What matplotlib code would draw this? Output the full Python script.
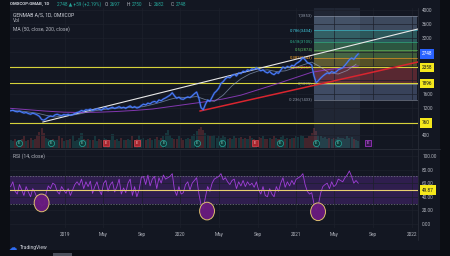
import numpy as np
import pandas as pd
import matplotlib
matplotlib.use("Agg")
import matplotlib.pyplot as plt
import matplotlib.transforms as mtransforms
from matplotlib.patches import Ellipse, Rectangle

plt.rcParams['font.family'] = ['Roboto', 'DejaVu Sans']

BG = '#131722'
TXT = '#b2b5be'
GRID = '#1c202b'

# weekly closes GMAB (DKK), from 2018-07-13
first_week = '2018-07-13'
close = [
    1110, 1125, 1095, 1080, 1100, 1070, 1045, 1060, 1030, 1010, 1040, 1020, 990,
    950, 860, 840, 880, 930, 960, 945, 990, 1010, 985, 970, 1000, 990,
    1010, 980, 1000, 1030, 1060, 1080, 1120, 1100, 1140, 1130, 1160, 1120, 1140,
    1170, 1150, 1130, 1180, 1200, 1160, 1190, 1210, 1180, 1200, 1230, 1190, 1210,
    1180, 1220, 1250, 1200, 1230, 1190, 1210, 1260, 1300, 1280, 1330, 1310, 1360,
    1380, 1350, 1420, 1400, 1450, 1480, 1520, 1560, 1630, 1540, 1470, 1500, 1450,
    1440, 1480, 1510, 1490, 1540, 1600, 1650, 1480, 1200, 1140, 1300, 1420, 1380,
    1500, 1620, 1680, 1760, 1900, 1950, 2030, 2080, 2060, 2120, 2160, 2110, 2200,
    2180, 2250, 2230, 2290, 2270, 2320, 2300, 2350, 2310, 2260, 2290, 2230, 2200,
    2240, 2180, 2150, 2210, 2190, 2280, 2370, 2330, 2390, 2360, 2420, 2400, 2470,
    2510, 2560, 2640, 2580, 2500, 2470, 2430, 2120, 1920, 1980, 2050, 2110, 2160,
    2200, 2180, 2240, 2210, 2230, 2290, 2320, 2350, 2420, 2500, 2580, 2630, 2590,
    2680, 2748,
]
volume = [
    40, 35, 45, 30, 38, 42, 55, 35, 40, 48, 36, 44, 60,
    75, 95, 70, 50, 42, 38, 45, 40, 36, 55, 48, 35, 40,
    38, 45, 60, 35, 40, 48, 70, 42, 38, 45, 36, 40, 55,
    35, 42, 38, 50, 45, 36, 40, 65, 38, 42, 35, 48, 40,
    36, 45, 40, 55, 38, 42, 60, 45, 50, 38, 42, 48, 40,
    45, 52, 40, 48, 55, 70, 85, 60, 50, 45, 42, 55, 48,
    40, 45, 50, 42, 55, 65, 80, 90, 100, 85, 70, 60, 55,
    58, 62, 50, 55, 48, 60, 52, 45, 50, 42, 55, 48, 46,
    52, 45, 48, 42, 55, 50, 45, 40, 52, 48, 55, 45, 42,
    50, 45, 55, 48, 42, 52, 60, 45, 48, 42, 50, 46, 55,
    52, 60, 55, 48, 50, 58, 72, 95, 80, 60, 55, 48, 52,
    45, 50, 42, 48, 45, 52, 48, 50, 45, 55, 48, 52, 45,
    40, 35,
]
rsi = [
    55, 62, 48, 44, 58, 50, 42, 55, 47, 40, 52, 46, 38,
    33, 26, 29, 45, 56, 52, 60, 58, 48, 44, 55, 50, 45,
    52, 42, 50, 58, 62, 57, 66, 52, 62, 55, 63, 45, 55,
    62, 50, 43, 60, 64, 48, 58, 62, 47, 55, 66, 44, 53,
    46, 60, 66, 42, 55, 40, 50, 68, 70, 58, 72, 56, 66,
    70, 52, 68, 60, 72, 66, 68, 70, 74, 50, 42, 55, 44,
    46, 58, 62, 50, 60, 64, 68, 45, 28, 22, 40, 55, 48,
    60, 66, 68, 70, 74, 65, 68, 62, 58, 64, 66, 52, 62,
    56, 64, 55, 62, 57, 60, 54, 62, 50, 44, 55, 42, 40,
    52, 44, 40, 55, 48, 60, 68, 54, 62, 56, 64, 58, 66,
    68, 70, 74, 58, 48, 44, 46, 30, 20, 28, 45, 55, 58,
    60, 52, 62, 55, 58, 66, 64, 62, 68, 72, 78, 70, 60,
    64, 60,
]
ma50_weeks = list(range(0, 157, 4))
ma50 = [1120, 1105, 1075, 1040, 980, 930, 960, 985, 1030, 1090,
        1130, 1160, 1185, 1200, 1210, 1230, 1290, 1360, 1440, 1500,
        1490, 1520, 1430, 1380, 1560, 1830, 2030, 2170, 2260, 2290,
        2240, 2260, 2340, 2430, 2510, 2370, 2200, 2170, 2270, 2450]
ma200_weeks = list(range(0, 153, 8)) + [157]
ma200 = [1180, 1140, 1100, 1070, 1060, 1070, 1090, 1120, 1160, 1230,
         1300, 1370, 1450, 1560, 1720, 1880, 2050, 2220, 2300, 2360, 2400]

last_price = 2748
hlines = [2358, 1896, 760]
price_ticks = [400, 800, 1200, 1600, 2000, 2400, 2800, 3200, 3600, 4000]
price_tick_labels = ['400', '', '1200', '1600', '', '', '', '3200', '3600', '4000']

white_dates = ['2018-10-23', '2022-01-21']
white_prices = [787, 3466]
red_dates = ['2020-03-03', '2022-01-21']
red_prices = [1104, 2515]

fib_dates = ['2021-02-26', '2022-01-18']
fib_zero, fib_one = 1895, 3853
fib_levels = [1, 0.786, 0.618, 0.5, 0.382, 0.236, 0, -0.236]
fib_line_colors = ['#9098a8', '#40c8dc', '#30b890', '#5cbf60', '#ffa726', '#f23645', '#9098a8', '#9098a8']
fib_zone_colors = ['#7890b0', '#4fb0a8', '#4fae6a', '#7cbc5a', '#b0a030', '#b84048', '#6c80a8']
range_dates = ['2021-02-26', '2021-07-21']

earn_dates = ['2018-08-08', '2018-11-17', '2019-02-24', '2019-05-10', '2019-08-15',
              '2019-11-08', '2020-02-22', '2020-05-12', '2020-08-23', '2020-11-10',
              '2021-03-04', '2021-05-13', '2021-08-15']
earn_kind = ['beat', 'beat', 'beat', 'miss', 'miss', 'beat', 'beat', 'beat', 'miss',
             'beat', 'beat', 'beat', 'next']

rsi_mark = 49.87
ell_dates = ['2018-10-19', '2020-03-25', '2021-03-11']
ell_rsi = [31, 19, 18]

time_ticks = ['2019-01-01', '2019-05-01', '2019-09-01', '2020-01-01', '2020-05-01',
              '2020-09-01', '2021-01-01', '2021-05-01', '2021-09-01', '2022-01-01']
time_labels = ['2019', 'May', 'Sep', '2020', 'May', 'Sep', '2021', 'May', 'Sep', '2022']
rsi_ticks = [0, 20, 40, 60, 80, 100]

dates = pd.date_range(first_week, periods=len(close), freq='7D')
xlim = (pd.Timestamp('2018-07-11'), pd.Timestamp('2022-01-21'))

W, H = 450, 256
fig = plt.figure(figsize=(4.5, 2.56), dpi=100)
fig.patch.set_facecolor(BG)


def fx(x):
    return x / W


def fy(y):
    return 1 - y / H


# dark frame strips
fig.add_artist(Rectangle((0, 0), fx(10), 1, transform=fig.transFigure, fc='#0c0e14', ec='none'))
fig.add_artist(Rectangle((fx(440), 0), fx(10), 1, transform=fig.transFigure, fc='#0c0e14', ec='none'))
fig.add_artist(Rectangle((0, 0), 1, 6 / H, transform=fig.transFigure, fc='#0c0e14', ec='none'))
fig.add_artist(Rectangle((fx(53), 0), fx(19), 3 / H, transform=fig.transFigure, fc='#4a4e59', ec='none'))

ax = fig.add_axes([fx(10), fy(148), fx(408), 140 / H])
axr = fig.add_axes([fx(10), fy(228), fx(408), 78 / H])

# ---- main pane
axv = ax.twinx()
ax.set_zorder(axv.get_zorder() + 1)
ax.patch.set_visible(False)
axv.patch.set_facecolor(BG)
chg = np.diff(close, prepend=close[0])
vcol = ['#26a69a' if c >= 0 else '#ef5350' for c in chg]
axv.bar(dates, volume, width=6.5, color=vcol, alpha=0.22, linewidth=0)
axv.set_ylim(0, max(volume) * 140 / 21)
axv.set_yticks([])
for s in axv.spines.values():
    s.set_visible(False)

ax.set_xlim(xlim)
ax.set_ylim(38, 4070)
ax.set_xticks(pd.to_datetime(time_ticks))
ax.set_xticklabels([])
ax.set_yticks(price_ticks)
ax.set_yticklabels(price_tick_labels)
ax.yaxis.tick_right()
ax.tick_params(length=0, labelsize=3.4, labelcolor=TXT, pad=3)
ax.grid(color=GRID, lw=0.5)
for s in ax.spines.values():
    s.set_visible(False)

ax.axvspan(pd.Timestamp(range_dates[0]), pd.Timestamp(range_dates[1]), color='#6a7a98', alpha=0.16, lw=0, zorder=1)
fx0, fx1 = pd.Timestamp(fib_dates[0]), pd.Timestamp(fib_dates[1])
fib_prices = [fib_zero + r * (fib_one - fib_zero) for r in fib_levels]
for k in range(len(fib_levels) - 1):
    ax.fill_between([fx0, fx1], fib_prices[k + 1], fib_prices[k], color=fib_zone_colors[k], alpha=0.42, lw=0, zorder=1)
for r, p, c in zip(fib_levels, fib_prices, fib_line_colors):
    ax.plot([fx0, fx1], [p, p], color=c, lw=0.5, alpha=0.8, zorder=2)
    lab = f'{r:g}({p:.0f})'
    ax.text(fx0 - pd.Timedelta(days=4), p, lab, color=c, fontsize=3.0, ha='right', va='center', zorder=3)

for p in hlines:
    ax.axhline(p, color='#d6d23a', lw=0.8, zorder=3)

ax.plot(pd.to_datetime(white_dates), white_prices, color='#e8e8e8', lw=0.8, zorder=4)
ax.plot(pd.to_datetime(red_dates), red_prices, color='#d9252f', lw=1.1, zorder=4)

ax.plot(dates[ma200_weeks], ma200, color='#8e3bbf', lw=0.7, alpha=0.9, zorder=4)
ax.plot(dates[ma50_weeks], ma50, color='#9fb6d8', lw=0.6, alpha=0.6, zorder=4)
ax.plot(dates, close, color='#2f5fe0', lw=1.6, alpha=0.45, zorder=5)
ax.plot(dates, close, color='#4d80ff', lw=0.7, zorder=5)

xt = ax.get_xaxis_transform()
for d, k in zip(pd.to_datetime(earn_dates), earn_kind):
    if k == 'beat':
        ax.scatter([d], [0.036], transform=xt, s=20, marker='o', fc='#0f3d3a', ec='#26a69a', lw=0.5, zorder=6)
        col = '#8ad1c8'
    elif k == 'miss':
        ax.scatter([d], [0.036], transform=xt, s=18, marker='s', fc='#a8262f', ec='#e04550', lw=0.5, zorder=6)
        col = '#f2c4c6'
    else:
        ax.scatter([d], [0.036], transform=xt, s=18, marker='s', fc='#3a1550', ec='#b03ad8', lw=0.5, zorder=6)
        col = '#d89af0'
    ax.text(d, 0.036, 'E', transform=xt, fontsize=2.8, color=col, ha='center', va='center', zorder=7)

tr = mtransforms.blended_transform_factory(ax.transAxes, ax.transData)
ax.text(1.009, last_price, f'{last_price}', transform=tr, ha='left', va='center', fontsize=3.4,
        color='white', clip_on=False, bbox=dict(boxstyle='square,pad=0.45', fc='#2962ff', ec='none'))
for p in hlines:
    ax.text(1.009, p, f'{p}', transform=tr, ha='left', va='center', fontsize=3.4,
            color='#131722', clip_on=False, bbox=dict(boxstyle='square,pad=0.45', fc='#f5e81c', ec='none'))

# ---- RSI pane
axr.set_facecolor(BG)
axr.set_xlim(xlim)
axr.set_ylim(-5.9, 108.8)
axr.axhspan(30, 70, color='#6a2fa8', alpha=0.33, lw=0)
axr.axhline(70, color='#787b86', lw=0.5, ls=(0, (2, 2)))
axr.axhline(30, color='#787b86', lw=0.5, ls=(0, (2, 2)))
axr.plot(dates, rsi, color='#a040d8', lw=0.6, zorder=3)
axr.axhline(rsi_mark, color='#e8d070', lw=0.8, zorder=4)
for d, v in zip(pd.to_datetime(ell_dates), ell_rsi):
    e = Ellipse((matplotlib.dates.date2num(d), v), width=47, height=26, fc='#6a1b80', ec='#e8c870',
                lw=0.7, alpha=0.95, zorder=5)
    axr.add_patch(e)
axr.set_xticks(pd.to_datetime(time_ticks))
axr.set_xticklabels(time_labels)
for t, lab in zip(axr.get_xticklabels(), time_labels):
    if lab.isdigit():
        t.set_color('#d1d4dc')
axr.set_yticks(rsi_ticks)
axr.set_yticklabels([f'{v:.2f}' for v in rsi_ticks])
axr.yaxis.tick_right()
axr.tick_params(length=0, labelsize=3.4, labelcolor=TXT, pad=3)
axr.tick_params(axis='x', pad=3)
axr.grid(color=GRID, lw=0.5)
for s in axr.spines.values():
    s.set_visible(False)
trr = mtransforms.blended_transform_factory(axr.transAxes, axr.transData)
axr.text(1.009, rsi_mark, f'{rsi_mark:.2f}', transform=trr, ha='left', va='center', fontsize=3.4,
         color='#131722', clip_on=False, bbox=dict(boxstyle='square,pad=0.45', fc='#f5e81c', ec='none'))

# pane borders
fig.add_artist(plt.Line2D([fx(10), fx(440)], [fy(149), fy(149)], transform=fig.transFigure, color='#2a2e39', lw=0.6))
fig.add_artist(plt.Line2D([fx(418), fx(418)], [fy(8), fy(240)], transform=fig.transFigure, color='#2a2e39', lw=0.5))

# header texts
fig.text(fx(10), fy(4), 'OMXCOP:GMAB, 1D', color='#d1d4dc', fontsize=3.2, fontweight='bold', va='center')
fig.text(fx(57), fy(4), '2748 ▲ +59 (+2.19%)', color='#26a69a', fontsize=3.4, va='center')
for xo, lab, val in [(105, 'O:', '2697'), (127, 'H:', '2750'), (149, 'L:', '2682'), (171, 'C:', '2748')]:
    fig.text(fx(xo), fy(4), lab, color=TXT, fontsize=3.4, va='center')
    fig.text(fx(xo + 5), fy(4), val, color='#26a69a', fontsize=3.4, va='center')
fig.text(fx(13), fy(15), 'GENMAB A/S, 1D, OMXCOP', color='#d1d4dc', fontsize=3.6, va='center')
fig.text(fx(13), fy(21), 'Vol', color=TXT, fontsize=3.6, va='center')
fig.text(fx(13), fy(29), 'MA (50, close, 200, close)', color=TXT, fontsize=3.6, va='center')
fig.text(fx(13), fy(156), 'RSI (14, close)', color=TXT, fontsize=3.6, va='center')
fig.text(fx(9), fy(247), '☁', family='DejaVu Sans', color='#2f6df5', fontsize=6, va='center')
fig.text(fx(20), fy(247), 'TradingView', color='#d1d4dc', fontsize=3.6, va='center')

fig.savefig('out.png', dpi=100, facecolor=BG)
